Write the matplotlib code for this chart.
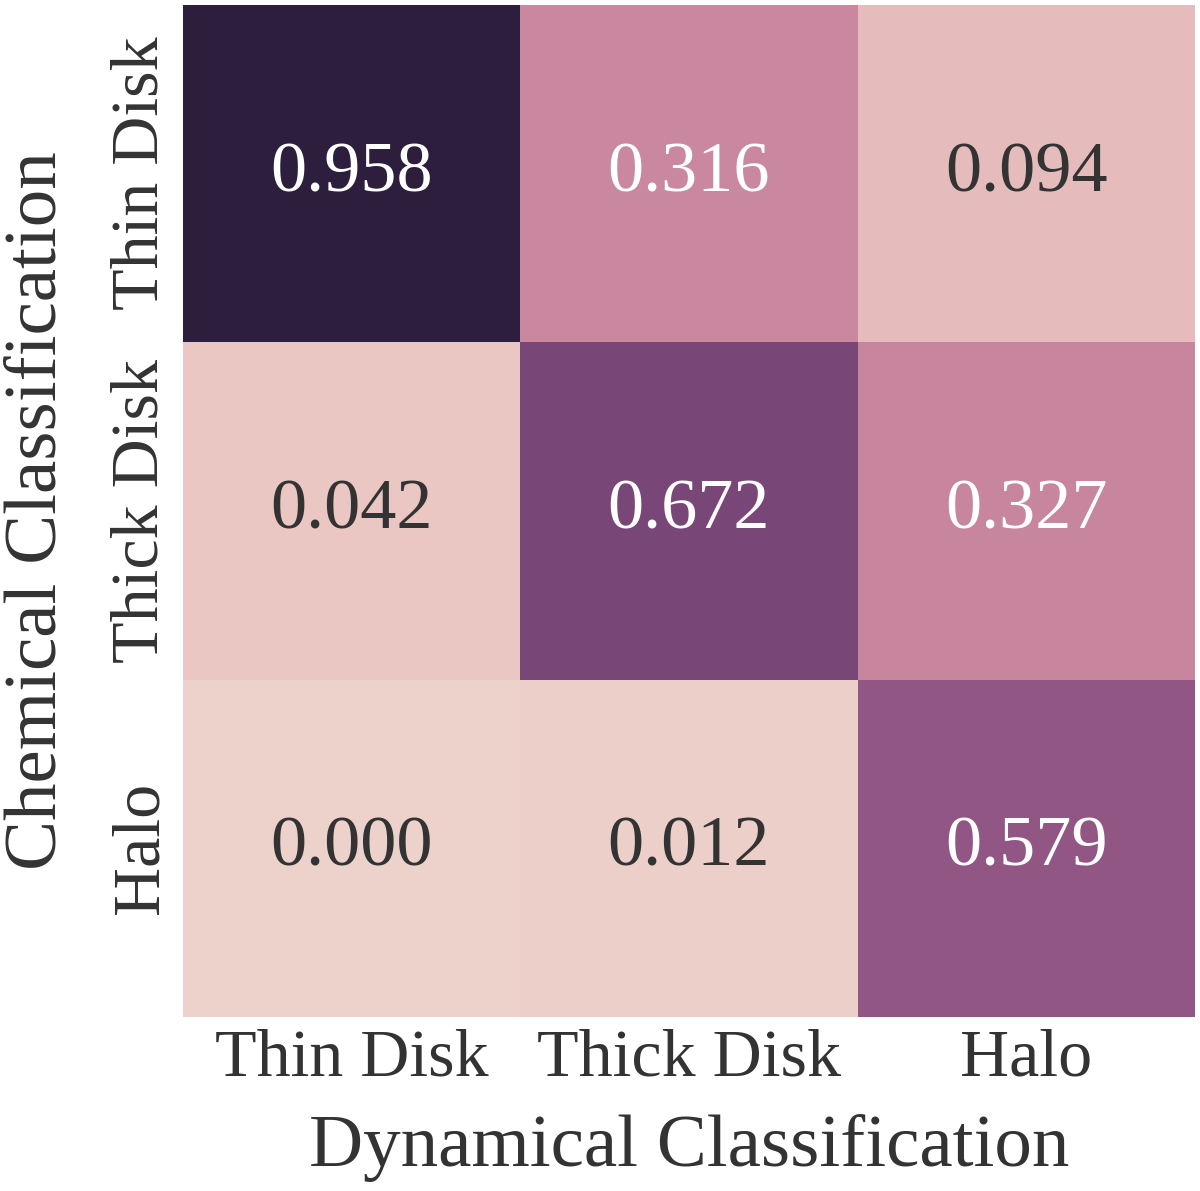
import matplotlib
matplotlib.use("Agg")
import matplotlib.pyplot as plt
import seaborn as sns
import numpy as np

chem_labels = ["Thin Disk", "Thick Disk", "Halo"]
dyn_labels = ["Thin Disk", "Thick Disk", "Halo"]
row_thin = [0.958, 0.316, 0.094]
row_thick = [0.042, 0.672, 0.327]
row_halo = [0.000, 0.012, 0.579]

data = np.array([row_thin, row_thick, row_halo])

sns.set_theme(style="white")
plt.rcParams['font.family'] = ['Liberation Serif', 'DejaVu Serif']
plt.rcParams['text.color'] = '.2'
plt.rcParams['axes.labelcolor'] = '.2'
plt.rcParams['xtick.color'] = '.2'
plt.rcParams['ytick.color'] = '.2'

fig = plt.figure(figsize=(12, 11.91), dpi=100)
ax = fig.add_axes([183/1200, 1 - 1017/1191, 1012/1200, 1012/1191])
cmap = sns.cubehelix_palette(as_cmap=True)
sns.heatmap(data, ax=ax, cmap=cmap, annot=True, fmt=".3f", cbar=False,
            annot_kws={"fontsize": 52},
            xticklabels=dyn_labels, yticklabels=chem_labels)
for t in ax.texts:
    if t.get_color() == ".15":
        t.set_color(".2")
ax.tick_params(axis='both', length=0, labelsize=49, pad=8)
plt.setp(ax.get_yticklabels(), rotation=90, va='center')
ax.set_xlabel("Dynamical Classification", fontsize=54, labelpad=18)
ax.set_ylabel("Chemical Classification", fontsize=54, labelpad=28)
fig.savefig("out.png", dpi=100)
